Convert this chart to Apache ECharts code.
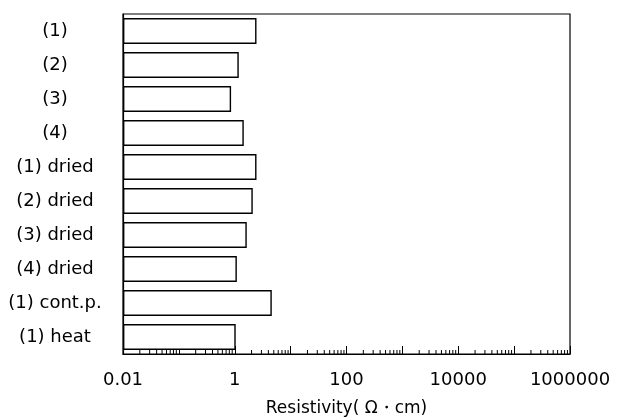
<!DOCTYPE html>
<html>
<head>
<meta charset="utf-8">
<script src="https://cdn.jsdelivr.net/npm/echarts@6/dist/echarts.min.js"></script>
<style>html,body{margin:0;padding:0;background:#fff}#c{width:618px;height:420px}</style>
</head>
<body>
<div id="c"></div>
<script>
const categories = ['(1)', '(2)', '(3)', '(4)', '(1) dried', '(2) dried', '(3) dried', '(4) dried', '(1) cont.p.', '(1) heat'];
const resistivity = [2.45, 1.18, 0.86, 1.45, 2.45, 2.1, 1.64, 1.09, 4.6, 1.04];
const tickLabels = ['0.01', '1', '100', '10000', '1000000'];
const axisMin = 0.01;
const axisMax = 1000000;

// minor tick values (2..9 x 10^k) for the log axis
const minorTicks = [];
for (let e = -2; e < 6; e++) {
  for (let k = 2; k <= 9; k++) minorTicks.push([+(k * Math.pow(10, e)).toPrecision(3), 0]);
}

const font = 'DejaVu Sans';
const chart = echarts.init(document.getElementById('c'), null, {renderer: 'canvas'});
chart.setOption({
  animation: false,
  grid: {left: 123, right: 48, top: 14, bottom: 66, show: true, borderColor: '#000', borderWidth: 1.2,
         containLabel: false, outerBoundsMode: 'none'},
  xAxis: {
    type: 'log', logBase: 10, min: axisMin, max: axisMax, startValue: axisMin, splitNumber: 8,
    axisLine: {show: true, lineStyle: {color: '#000', width: 1.2}},
    axisTick: {show: true, inside: true, length: 8, lineStyle: {color: '#000', width: 1}},
    splitLine: {show: false},
    axisLabel: {
      color: '#000', fontFamily: font, fontSize: 18, margin: 17,
      formatter: function (v) {
        const s = String(+v.toPrecision(6));
        const txt = v >= 1 ? String(Math.round(v)) : s;
        return tickLabels.indexOf(txt) >= 0 ? txt : '';
      }
    },
    name: 'Resistivity( Ω・cm)', nameLocation: 'middle', nameGap: 46,
    nameTextStyle: {color: '#000', fontFamily: font, fontSize: 17}
  },
  yAxis: {
    type: 'category', data: categories, inverse: true,
    axisLine: {show: true, lineStyle: {color: '#000', width: 1.2}},
    axisTick: {show: false},
    axisLabel: {color: '#000', fontFamily: font, fontSize: 18, align: 'center', margin: 68}
  },
  series: [
    {
      type: 'bar', data: resistivity, barWidth: 26,
      itemStyle: {color: '#fff', borderColor: '#000', borderWidth: 1.4}
    },
    {
      type: 'custom', data: minorTicks, encode: {x: 0, y: 1}, silent: true, z: 5,
      renderItem: function (params, api) {
        const x = api.coord([api.value(0), 0])[0];
        const cs = params.coordSys;
        const yb = cs.y + cs.height;
        return {type: 'line', shape: {x1: x, y1: yb, x2: x, y2: yb - 4}, style: {stroke: '#000', lineWidth: 1}};
      }
    }
  ]
});
</script>
</body>
</html>
